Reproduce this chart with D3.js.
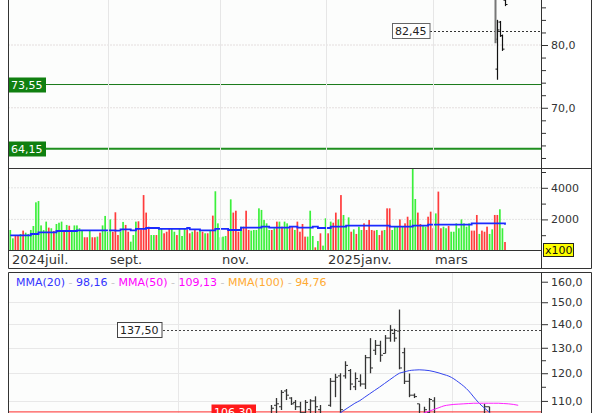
<!DOCTYPE html>
<html><head><meta charset="utf-8">
<script src="https://cdn.jsdelivr.net/npm/d3@7"></script>
<style>body{margin:0;background:#fff}svg{display:block}text{font-family:"DejaVu Sans",Verdana,sans-serif}</style>
</head><body><svg id="c" width="600" height="413"></svg>
<script>
// ---------- DATA ----------
const startDate = "2024-07-10";
const holidays = ["2024-12-25","2024-12-26","2025-01-01"];
const tickMonths = ["2024-07","2024-09","2024-11","2025-01","2025-03"];
const tickLabels = ["2024juil.","sept.","nov.","2025janv.","mars"];

const volume = [1330,800,950,950,1080,1290,1160,1080,1330,1580,
3080,3160,1620,1330,1860,1480,1440,1270,1710,1790,
1860,1220,1650,1600,1290,1620,1620,1440,1330,870,
870,1330,870,870,910,1160,1620,2220,1220,2000,
1220,2450,1010,1220,1840,1650,1220,590,1010,1860,
1880,1370,3540,2430,1540,1010,1010,1010,1440,1440,
1120,1220,1440,1440,1220,1010,1440,950,1440,1330,
1120,1220,1370,1220,1330,1220,1120,1120,1330,2240,
3780,1750,870,910,950,1440,3270,2430,2550,1220,
1540,1540,2550,1330,1290,1330,1330,2700,2600,1960,
1750,1330,1330,1440,1860,1860,1540,1860,1750,1440,
1540,1330,1860,1220,
1710,910,910,2550,950,230,630,1120,340,2070,
1120,1860,1790,2430,2000,3540,2280,1540,2130,1220,
1370,1080,1540,1330,1750,1330,1960,1330,1290,1330,
1010,1290,1330,2700,2700,1330,1540,1540,2000,1540,
1750,2170,1960,5230,3290,2430,1710,1580,1540,2170,
2490,1440,2380,3760,1440,1540,1440,1580,1220,1220,
1750,1440,2000,1750,1540,1750,1290,1290,2280,1080,
1290,1220,1540,1080,1370,2280,2280,2640,1440,570];
const volUp = "GGRRGRGGGG"+"GGGGGRGRGG"+"GRGRGGGGGR"+"RGRRGRGGGG"+"RRRGGRRGGG"+"RRRRRGGRGG"+"RRRGGRGGGR"+"RGRRGRGRGR"+"GGGGGRGRRR"+"GRRRGGGGGG"+"GGRGRGRGGR"+"RGRR"+
  "RRGGGRGRGG"+"RGRRGRGGGR"+"GRGGRRRRRG"+"RRGRRGGGRG"+"RRGGGRRGGR"+"RRGRRGGRGG"+"GGGGGGRRRG"+"RRRGGRRGGR";
const volMARuns = [[8,990],[3,1075],[7,1180],[8,1265],[15,1310],[2,1290],[4,1370],[2,1310],[4,1395],[5,1455],[11,1395],[1,1455],[4,1370],[6,1310],[5,1395],[5,1330],[8,1480],[3,1545],[8,1480],[3,1545],[6,1480],[2,1545],[5,1455],[6,1545],[17,1600],[9,1545],[6,1600],[17,1665],[13,1750],[2,1665]];

// top price panel (only the last bars reach the visible range)
const topIdx   = [189, 190, 191, 192, 193];
const topOpen  = [92, 76.0, 84.0, 81.6, 88];
const topHigh  = [95, 84.4, 84.2, 81.8, 90];
const topLow   = [80.3, 74.3, 81.4, 79.0, 86.9];
const topClose = [81, 82.6, 81.6, 79.3, 87.2];
const topMajor = [70, 80];
const topLevels = [73.55, 64.15];
const topLast = 82.45;

const volMajor = [2000, 4000];
const volMinor = [1000, 3000, 5000];

// bottom price panel
const botIdx   = [17,18,19,20,21,22,23,24,25,26,27,28,29,30,31,32,33,34,35,36,37,38,39,40,41,42,43,44,45,46,47,48,49,50,51,52,53,54,55,56,57,58,59,60,61,62,63,64];
const botOpen  = [103,102,105,108.5,108,113.5,111,109.5,108,106,107,110,107,104,108.5,117,119,119,121,115,117,116,126,129,131,127.7,134,136,137,128,117,112,109,105,106,110,103,102,103,101,102,103,102,101,103,105,108,103];
const botHigh  = [104.5,104,108.6,111,113.8,114.2,111.3,110.3,109.7,110.3,110.6,111.6,108.6,105.2,118.2,119.8,120,124.6,121.6,120.3,119.6,127.1,134,133.2,132.9,135.3,139.6,138,146.6,130,119.9,112.6,109,108,111,111.3,104.5,104,104.5,103,104,104.5,104,103.5,104.5,109,108,104];
const botLow   = [101,100.5,104,104,106.9,110.3,108.6,106.9,104,104,104,104,103,102,108,111.3,104,118,113.8,113.8,115.1,114.2,120,127.1,124.4,127.7,132.5,132.5,121.5,116,111.3,111,104,104,103.5,104,100,100.5,101,99.5,100,101,100.5,99.5,101,104,104,100];
const botClose = [102,103.5,107.5,109,113,112,109,108,106,109.5,110,108,104.5,104.8,117,118.5,107,123,116,118,116,126,122,131,127,134,137.5,134,122,117,112,111.5,105,107,110.5,105,102,103,102,101,103,102,101,103,102,108,105,101];
const mma20Idx = [33,34,35,36,37,38,39,40,41,42,43,44,45,46,47,48,49,50,51,52,53,54,55,56,57,58,59,60,61,62,63,64];
const mma20    = [105.9,107,108.1,109.2,110.1,111.3,112.5,113.7,114.9,116.2,117.5,118.8,120,120.5,121,121.2,121.3,121.2,121,120.6,120.1,119.5,118.9,117.9,116.6,115.2,113.5,111.4,109.4,107.8,106.4,104.8];
const mma50Idx = [48,49,50,51,52,53,54,55,56,57,58,59,60,61,62,63,64,65,66,67,68,69];
const mma50    = [104.5,105.2,105.9,106.5,107.1,107.7,108.3,108.6,108.8,108.9,109.0,109.1,109.2,109.2,109.2,109.2,109.2,109.2,109.1,109.0,108.8,108.5];
const botMajor = [110,120,130,140,150,160];
const botMinor = [115,125];
const botGridIdx = [0.2, 55.6];
const botLast = 137.50;
const botLevel = 106.30;
const legendNames = ["MMA(20)","MMA(50)","MMA(100)"];
const legendValues = [98.16, 109.13, 94.76];

// ---------- LAYOUT ----------
const L=8, R=591, AX=541;
const svg = d3.select("#c");
const frFmt = (v,n)=>v.toFixed(n).replace(".",",");
const N = volume.length;

// trading dates
const hol = new Set(holidays);
const dates = [];
{ let d = new Date(startDate+"T12:00:00Z");
  while (dates.length < N) {
    const wd = d.getUTCDay(), s = d.toISOString().slice(0,10);
    if (wd!==0 && wd!==6 && !hol.has(s)) dates.push(s);
    d = new Date(d.getTime()+86400000);
  } }

const xV = d3.scaleLinear().domain([0, 193]).range([10.3, 505]);
const yTop = d3.scaleLog().domain([61.58, 88.04]).range([168, 0]);
const yVol = d3.scaleLinear().domain([0, 5000]).range([251, 172]);
const yBot = d3.scaleLog().domain([105.9, 164.96]).range([413, 272]);
const xB = d3.scaleLinear().domain([19, 63]).range([270.7, 488.5]);

const defs = svg.append("defs");
function clip(id,x,y,w,h){defs.append("clipPath").attr("id",id).append("rect").attr("x",x).attr("y",y).attr("width",w).attr("height",h);}
clip("cTop",L,0,AX-L,168); clip("cVol",L,168,AX-L,83); clip("cBot",L,272,AX-L,141);

// backgrounds
svg.append("rect").attr("x",L).attr("y",0).attr("width",AX-L).attr("height",168).attr("fill","#fcfdfc");
svg.append("rect").attr("x",L).attr("y",168).attr("width",AX-L).attr("height",83).attr("fill","#fcfdfc");
svg.append("rect").attr("x",L).attr("y",272).attr("width",AX-L).attr("height",141).attr("fill","#fcfdfc");

// month ticks
const tickIdx = tickMonths.map((m,k)=> k===0 ? 0 : dates.findIndex(d=>d.slice(0,7)===m));
const gTop = svg.append("g").attr("clip-path","url(#cTop)");
const gVol = svg.append("g").attr("clip-path","url(#cVol)");
const gBot = svg.append("g").attr("clip-path","url(#cBot)");

tickIdx.slice(1).forEach(i=>{
  svg.append("line").attr("x1",Math.round(xV(i))+0.5).attr("x2",Math.round(xV(i))+0.5).attr("y1",0).attr("y2",250).attr("stroke","#e6e6e6");
});
// horizontal grids
topMajor.forEach(v=>gTop.append("line").attr("x1",L).attr("x2",AX).attr("y1",yTop(v)).attr("y2",yTop(v)).attr("stroke","#e4dede").attr("stroke-dasharray","2,1"));
volMajor.forEach(v=>gVol.append("line").attr("x1",L).attr("x2",AX).attr("y1",yVol(v)).attr("y2",yVol(v)).attr("stroke","#e4e4e4").attr("stroke-dasharray","2,1"));
botMajor.slice(0,5).forEach(v=>gBot.append("line").attr("x1",L).attr("x2",AX).attr("y1",Math.round(yBot(v))+0.5).attr("y2",Math.round(yBot(v))+0.5).attr("stroke","#e8e8e8"));
botGridIdx.forEach(i=>gBot.append("line").attr("x1",Math.round(xB(i))+0.5).attr("x2",Math.round(xB(i))+0.5).attr("y1",272).attr("y2",413).attr("stroke","#e8e8e8"));

// ---------- VOLUME ----------
gVol.selectAll("rect.v").data(volume).join("rect").attr("class","v")
  .attr("x",(d,i)=>xV(i)-0.85).attr("width",1.7)
  .attr("y",d=>yVol(d)).attr("height",d=>yVol(0)-yVol(d))
  .attr("fill",(d,i)=>volUp[i]==="G"?"#3bf03b":"#ff3c3c");
const volMA = [];
volMARuns.forEach(([n,v])=>{for(let k=0;k<n;k++) volMA.push(v);});
gVol.append("path").datum(volMA.slice(0,N)).attr("fill","none").attr("stroke","#1a2aff").attr("stroke-width",1.8)
  .attr("d", d3.line().x((d,i)=>xV(i)).y(d=>yVol(d)).curve(d3.curveStepAfter));

// ---------- TOP PRICE ----------
topLevels.forEach((v,k)=>{
  gTop.append("line").attr("x1",L).attr("x2",AX).attr("y1",yTop(v)).attr("y2",yTop(v)).attr("stroke",k===0?"#1a7a1a":"#1f8f1f").attr("stroke-width",k===0?1:2);
});
gTop.append("line").attr("x1",430).attr("x2",AX).attr("y1",Math.round(yTop(topLast))+0.5).attr("y2",Math.round(yTop(topLast))+0.5).attr("stroke","#333").attr("stroke-dasharray","2,2");
topIdx.forEach((i,k)=>{
  const x = Math.round(xV(i))+0.5;
  const col = k===0 ? "#777" : "#111";
  gTop.append("line").attr("x1",x).attr("x2",x).attr("y1",yTop(topHigh[k])).attr("y2",yTop(topLow[k])).attr("stroke",col).attr("stroke-width",k===0?2:1.2);
  gTop.append("line").attr("x1",x-2).attr("x2",x).attr("y1",yTop(topOpen[k])).attr("y2",yTop(topOpen[k])).attr("stroke",col);
  gTop.append("line").attr("x1",x).attr("x2",x+2).attr("y1",yTop(topClose[k])).attr("y2",yTop(topClose[k])).attr("stroke",col);
});

// ---------- BOTTOM PRICE ----------
gBot.append("line").attr("x1",L).attr("x2",AX).attr("y1",yBot(botLevel)).attr("y2",yBot(botLevel)).attr("stroke","#ff5555").attr("stroke-width",1.3);
gBot.append("line").attr("x1",163).attr("x2",AX).attr("y1",Math.round(yBot(botLast))+0.5).attr("y2",Math.round(yBot(botLast))+0.5).attr("stroke","#444").attr("stroke-dasharray","2,2");
botIdx.forEach((i,k)=>{
  const x = Math.round(xB(i))+0.5;
  gBot.append("line").attr("x1",x).attr("x2",x).attr("y1",yBot(botHigh[k])).attr("y2",yBot(botLow[k])).attr("stroke","#333").attr("stroke-width",1.3);
  gBot.append("line").attr("x1",x-2.5).attr("x2",x).attr("y1",yBot(botOpen[k])).attr("y2",yBot(botOpen[k])).attr("stroke","#333");
  gBot.append("line").attr("x1",x).attr("x2",x+2.5).attr("y1",yBot(botClose[k])).attr("y2",yBot(botClose[k])).attr("stroke","#333");
});
gBot.append("path").datum(mma20).attr("fill","none").attr("stroke","#3344ee").attr("stroke-width",1)
  .attr("d", d3.line().x((d,k)=>xB(mma20Idx[k])).y(d=>yBot(d)).curve(d3.curveMonotoneX));
gBot.append("path").datum(mma50).attr("fill","none").attr("stroke","#ff22ff").attr("stroke-width",1)
  .attr("d", d3.line().x((d,k)=>xB(mma50Idx[k])).y(d=>yBot(d)).curve(d3.curveMonotoneX));

// ---------- LABEL BOXES ----------
function box(x, yc, txt, bg, fg, stroke){
  const g = svg.append("g");
  const t = g.append("text").attr("x",x+3).attr("y",yc+4).attr("font-size",11).attr("fill",fg).text(txt);
  const w = t.node().getComputedTextLength()+6;
  g.insert("rect","text").attr("x",x+0.5).attr("y",Math.round(yc)-7.5).attr("width",w).attr("height",15).attr("fill",bg).attr("stroke",stroke||"none");
  return w;
}
topLevels.forEach(v=>box(L, yTop(v), frFmt(v,2), "#108010", "#ffffff"));
box(392, yTop(topLast), frFmt(topLast,2), "#ffffff", "#222", "#666");
box(117, yBot(botLast), frFmt(botLast,2), "#ffffff", "#222", "#444");
box(211, yBot(botLevel), frFmt(botLevel,2), "#ff1a1a", "#ffffff");

// ---------- AXES ----------
function styleAxis(g){ g.select(".domain").remove(); g.selectAll("line").attr("stroke","#333"); g.selectAll("text").attr("font-size",11).attr("fill","#333").attr("font-family","DejaVu Sans"); }
const rTop = Math.pow(topMajor[1]/topMajor[0], 1/5);
const topMinor = d3.range(-4,9).filter(k=>k%5!==0).map(k=>topMajor[0]*Math.pow(rTop,k));
svg.append("g").attr("transform",`translate(${AX},0)`).call(d3.axisRight(yTop).tickValues(topMinor).tickSize(5).tickFormat("")).call(styleAxis);
svg.append("g").attr("transform",`translate(${AX},0)`).call(d3.axisRight(yTop).tickValues(topMajor).tickSize(7).tickPadding(3).tickFormat(d=>frFmt(d,1))).call(styleAxis);
svg.append("g").attr("transform",`translate(${AX},0)`).call(d3.axisRight(yVol).tickValues(volMinor).tickSize(5).tickFormat("")).call(styleAxis);
svg.append("g").attr("transform",`translate(${AX},0)`).call(d3.axisRight(yVol).tickValues(volMajor).tickSize(7).tickPadding(3).tickFormat(d=>d)).call(styleAxis);
svg.append("g").attr("transform",`translate(${AX},0)`).call(d3.axisRight(yBot).tickValues(botMinor).tickSize(5).tickFormat("")).call(styleAxis);
svg.append("g").attr("transform",`translate(${AX},0)`).call(d3.axisRight(yBot).tickValues(botMajor).tickSize(7).tickPadding(3).tickFormat(d=>frFmt(d,1))).call(styleAxis);

// x100 box
svg.append("rect").attr("x",543.5).attr("y",243.5).attr("width",30).attr("height",13).attr("fill","#ffff00").attr("stroke","#222");
svg.append("text").attr("x",545).attr("y",254).attr("font-size",11).attr("fill","#111").text("x100");

// date labels
tickIdx.forEach((i,k)=>{
  svg.append("text").attr("x",k===0?12:Math.round(xV(i))+2).attr("y",264).attr("font-size",13).attr("fill","#333").text(tickLabels[k]);
});

// legend
const lg = svg.append("text").attr("x",16).attr("y",286).attr("font-size",11);
const lcol = ["#3333ff","#ff00ff","#ffaa33"];
legendNames.forEach((n,k)=>{
  if(k>0) lg.append("tspan").attr("fill","#c8c8c8").text(" - ");
  lg.append("tspan").attr("fill",lcol[k]).text(n);
  lg.append("tspan").attr("fill","#c8c8c8").text(" - ");
  lg.append("tspan").attr("fill",lcol[k]).text(frFmt(legendValues[k],2));
});

// ---------- FRAMES ----------
const fr = svg.append("g").attr("stroke","#333").attr("fill","none");
fr.append("path").attr("d",`M${L+0.5},0V268.5H${R+0.5}V0`);
fr.append("line").attr("x1",L).attr("x2",R+1).attr("y1",168.5).attr("y2",168.5);
fr.append("line").attr("x1",L).attr("x2",AX).attr("y1",250.5).attr("y2",250.5);
fr.append("line").attr("x1",AX+0.5).attr("x2",AX+0.5).attr("y1",0).attr("y2",268.5);
fr.append("path").attr("d",`M${L+0.5},413V272.5H${R+0.5}V413`);
fr.append("line").attr("x1",AX+0.5).attr("x2",AX+0.5).attr("y1",272).attr("y2",413);
</script></body></html>
